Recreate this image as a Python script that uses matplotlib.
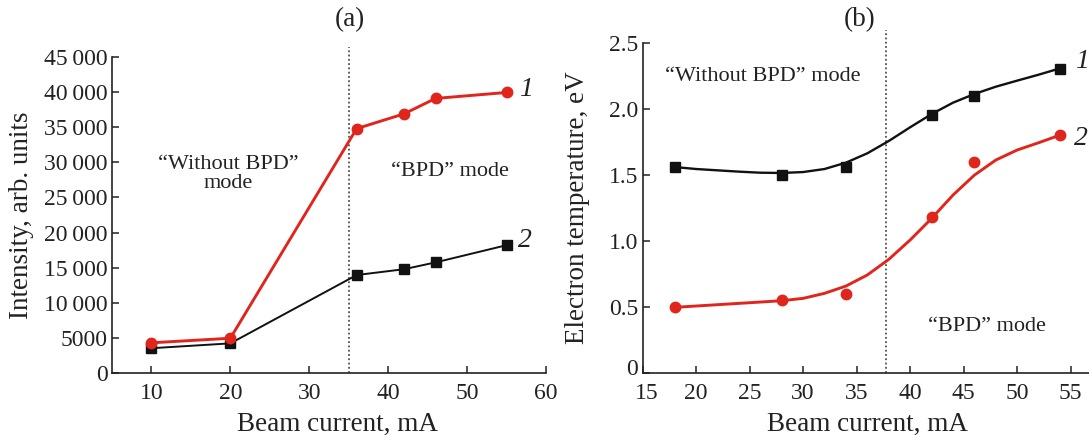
import matplotlib
matplotlib.use("Agg")
import matplotlib.pyplot as plt
import matplotlib.transforms as mtransforms

# ---------------- data ----------------
# panel (a)
a_current = [10, 20, 36, 42, 46, 55]
a_int1 = [4300, 4950, 34800, 36900, 39100, 39950]   # curve 1 (red)
a_int2 = [3530, 4220, 13950, 14780, 15750, 18200]   # curve 2 (black)
a_yticks = [0, 5000, 10000, 15000, 20000, 25000, 30000, 35000, 40000, 45000]
a_yticklabels = ["0", "5000", "10\u2009000", "15\u2009000", "20\u2009000", "25\u2009000",
                 "30\u2009000", "35\u2009000", "40\u2009000", "45\u2009000"]
a_xticks = [10, 20, 30, 40, 50, 60]

# panel (b)
b_current = [18, 28, 34, 42, 46, 54]
b_te1 = [1.56, 1.50, 1.56, 1.95, 2.10, 2.30]        # curve 1 (black squares)
b_te2 = [0.50, 0.55, 0.60, 1.18, 1.60, 1.80]        # curve 2 (red circles)
# fitted smooth curves
b_fit_x = [18, 20, 22, 24, 26, 28, 30, 32, 34, 36, 38, 40, 42, 44, 46, 48, 50, 52, 54]
b_fit1 = [1.559, 1.544, 1.534, 1.524, 1.516, 1.514, 1.521, 1.544, 1.592, 1.663,
          1.756, 1.860, 1.960, 2.046, 2.112, 2.167, 2.213, 2.258, 2.306]
b_fit2 = [0.497, 0.507, 0.517, 0.527, 0.537, 0.547, 0.565, 0.603, 0.658, 0.742,
          0.860, 1.007, 1.170, 1.347, 1.498, 1.612, 1.688, 1.743, 1.801]
b_yticks = [0, 0.5, 1.0, 1.5, 2.0, 2.5]
b_yticklabels = ["0", "0.5", "1.0", "1.5", "2.0", "2.5"]
b_xticks = [15, 20, 25, 30, 35, 40, 45, 50, 55]

RED = "#e0261c"
BLK = "#111111"
TXT = "#222222"
FONT = "Liberation Serif"
TICK_FS = 17
NOTE_FS = 16
LAB_FS = 19.5
NUM_FS = 20

plt.rcParams["font.family"] = [FONT, "DejaVu Serif"]

fig = plt.figure(figsize=(10.89, 4.42), dpi=100)

W, H = 1089.0, 442.0
axA = fig.add_axes([112 / W, 1 - 373 / H, (546 - 112) / W, (373 - 57) / H])
axB = fig.add_axes([642.5 / W, 1 - 373 / H, (1089 - 642.5) / W, (373 - 42.7) / H])

for ax in (axA, axB):
    for s in ("top", "right"):
        ax.spines[s].set_visible(False)
    for s in ("left", "bottom"):
        ax.spines[s].set_linewidth(1.2)
        ax.spines[s].set_color(TXT)
    ax.tick_params(direction="in", length=5, width=1.1, labelsize=TICK_FS,
                   colors=TXT)
    ax.tick_params(axis="x", pad=7)
    ax.tick_params(axis="y", pad=3)

# ---------- panel (a) ----------
axA.set_xlim(5, 60)
axA.set_ylim(0, 45000)
axA.set_xticks(a_xticks)
axA.set_yticks(a_yticks)
axA.set_yticklabels(a_yticklabels)
axA.axvline(35, ymin=0, ymax=46470 / 45000, color="#333333", lw=1.1,
            ls=(0, (1.2, 1.6)), clip_on=False)
axA.plot(a_current, a_int2, color=BLK, lw=1.4, marker="s", ms=6.5, zorder=3)
axA.plot(a_current, a_int1, color=RED, lw=2.1, marker="o", ms=7.5, zorder=4)
axA.text(19.7, 28270, "\u201cWithout BPD\u201d\nmode", ha="center", va="center",
         fontsize=NOTE_FS, linespacing=1.0, color=TXT)
axA.text(47.8, 28670, "\u201cBPD\u201d mode", ha="center", va="center",
         fontsize=NOTE_FS, color=TXT)
axA.text(56.6, 40400, "1", ha="left", va="center", fontsize=NUM_FS,
         style="italic", color=TXT)
axA.text(56.5, 18840, "2", ha="left", va="center", fontsize=NUM_FS,
         style="italic", color=TXT)
axA.set_xlabel("Beam current, mA", fontsize=LAB_FS, color=TXT)
axA.set_ylabel("Intensity, arb. units", fontsize=LAB_FS, color=TXT)
axA.xaxis.set_label_coords(0.52, -0.122)
axA.yaxis.set_label_coords(-0.18, 0.5)
fig.text(350 / W, 1 - 20 / H, "(a)", ha="center", va="center", fontsize=LAB_FS,
         color=TXT)

# ---------- panel (b) ----------
axB.set_xlim(15, 56.7)
axB.set_ylim(0, 2.5)
axB.set_xticks(b_xticks)
axB.set_yticks(b_yticks)
axB.set_yticklabels(b_yticklabels)
axB.axvline(37.7, ymin=0, ymax=2.596 / 2.5, color="#333333", lw=1.1,
            ls=(0, (1.2, 1.6)), clip_on=False)
axB.plot(b_fit_x, b_fit1, color=BLK, lw=1.7, zorder=3)
axB.plot(b_fit_x, b_fit2, color=RED, lw=2.1, zorder=3)
axB.plot(b_current, b_te1, ls="none", color=BLK, marker="s", ms=7, zorder=4)
axB.plot(b_current, b_te2, ls="none", color=RED, marker="o", ms=7.5, zorder=4)
axB.text(26.2, 2.243, "\u201cWithout BPD\u201d mode", ha="center", va="center",
         fontsize=NOTE_FS, color=TXT)
axB.text(47.2, 0.35, "\u201cBPD\u201d mode", ha="center", va="center",
         fontsize=NOTE_FS, color=TXT)
axB.text(55.4, 2.357, "1", ha="left", va="center", fontsize=NUM_FS,
         style="italic", color=TXT, clip_on=False)
axB.text(55.3, 1.777, "2", ha="left", va="center", fontsize=NUM_FS,
         style="italic", color=TXT, clip_on=False)
axB.set_xlabel("Beam current, mA", fontsize=LAB_FS, color=TXT)
axB.set_ylabel("Electron temperature, eV", fontsize=LAB_FS, color=TXT)
axB.xaxis.set_label_coords(0.505, -0.117)
axB.yaxis.set_label_coords(-0.117, 0.5)
fig.text(860 / W, 1 - 20 / H, "(b)", ha="center", va="center", fontsize=LAB_FS,
         color=TXT)

# nudge the "0" label of panel (b) up a little so it clears the "15" label
zero_lab = axB.get_yticklabels()[0]
zero_lab.set_transform(zero_lab.get_transform() +
                       mtransforms.ScaledTranslation(0, 4 / 72, fig.dpi_scale_trans))
first_x = axB.get_xticklabels()[0]
first_x.set_transform(first_x.get_transform() +
                      mtransforms.ScaledTranslation(3 / 72, 0, fig.dpi_scale_trans))

fig.savefig("out.png", dpi=100)
